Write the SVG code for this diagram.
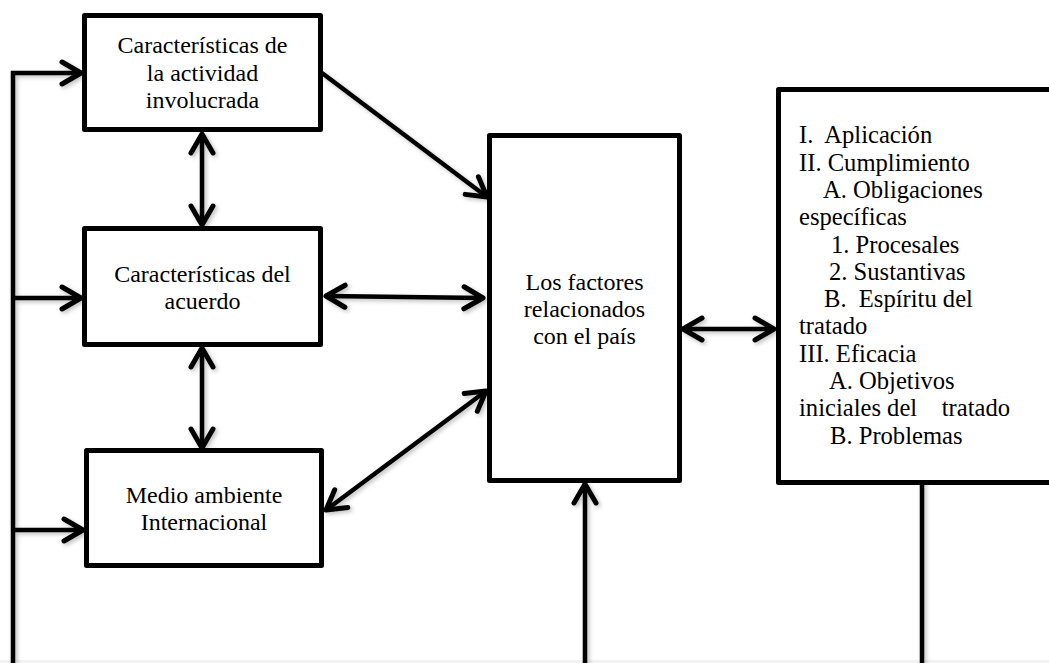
<svg xmlns="http://www.w3.org/2000/svg" width="1049" height="663" viewBox="0 0 1049 663">
<style>
.box{fill:#fff;stroke:#000;stroke-width:5;stroke-linejoin:round}
.con{fill:none;stroke:#000;stroke-width:4.5;stroke-linecap:butt}
.arr{marker-end:url(#ah)}
.dbl{marker-start:url(#ah);marker-end:url(#ah)}
text{font-family:"Liberation Serif","Times New Roman",serif;font-size:24px;fill:#000}
.c{text-anchor:middle}
.l{font-size:24.6px;white-space:pre}
</style>
<defs>
<marker id="ah" markerUnits="userSpaceOnUse" viewBox="-26 -16 30 32" markerWidth="30" markerHeight="32" refX="0" refY="0" orient="auto-start-reverse" overflow="visible">
<path d="M-19 -11 L0 0 L-19 11" fill="none" stroke="#000" stroke-width="5" stroke-linecap="round" stroke-linejoin="round"/>
</marker>
<filter id="sh" x="-10%" y="-10%" width="130%" height="130%">
<feDropShadow dx="2" dy="2" stdDeviation="2" flood-color="#000" flood-opacity="0.25"/>
</filter>
</defs>
<rect x="0" y="0" width="1049" height="663" fill="#fff"/>
<rect x="0" y="660" width="1049" height="3" fill="#f2f2f2"/>
<g id="connectors" filter="url(#sh)">
<path class="con arr" d="M13 663 V73 H81"/>
<path class="con arr" d="M13 298 H81"/>
<path class="con arr" d="M13 530 H83"/>
<path class="con dbl" d="M202 134 V225"/>
<path class="con dbl" d="M202 348 V448"/>
<path class="con arr" d="M322 73 L487 197"/>
<path class="con dbl" d="M326 296 L483 298"/>
<path class="con dbl" d="M326 510 L486 391"/>
<path class="con dbl" d="M683 329 L774 329"/>
<path class="con arr" d="M585 663 V484"/>
<path class="con" d="M922 476 V663"/>
</g>
<g id="node-actividad">
<rect class="box" x="84.5" y="15.5" width="236" height="114"/>
<text class="c" x="202.5" y="53">Características de</text>
<text class="c" x="202.5" y="80.5">la actividad</text>
<text class="c" x="202.5" y="108">involucrada</text>
</g>
<g id="node-acuerdo">
<rect class="box" x="84.5" y="228.5" width="236" height="116"/>
<text class="c" x="202.5" y="282">Características del</text>
<text class="c" x="202.5" y="309">acuerdo</text>
</g>
<g id="node-medio">
<rect class="box" x="86.5" y="450.5" width="235" height="115"/>
<text class="c" x="204" y="503">Medio ambiente</text>
<text class="c" x="204" y="530">Internacional</text>
</g>
<g id="node-pais">
<rect class="box" x="489.5" y="135.5" width="190" height="345"/>
<text class="c" x="584.5" y="290">Los factores</text>
<text class="c" x="584.5" y="317">relacionados</text>
<text class="c" x="584.5" y="344">con el país</text>
</g>
<g id="node-resultados">
<rect class="box" x="778.5" y="89.5" width="290" height="393"/>
<text class="l" xml:space="preserve" x="799" y="143.3">I.  Aplicación</text>
<text class="l" xml:space="preserve" x="799" y="170.6">II. Cumplimiento</text>
<text class="l" xml:space="preserve" x="823" y="197.9">A. Obligaciones</text>
<text class="l" xml:space="preserve" x="799" y="225.2">específicas</text>
<text class="l" xml:space="preserve" x="831" y="252.5">1. Procesales</text>
<text class="l" xml:space="preserve" x="829" y="279.8">2. Sustantivas</text>
<text class="l" xml:space="preserve" x="824" y="307.1">B.  Espíritu del</text>
<text class="l" xml:space="preserve" x="799" y="334.4">tratado</text>
<text class="l" xml:space="preserve" x="799" y="361.7">III. Eficacia</text>
<text class="l" xml:space="preserve" x="829" y="389">A. Objetivos</text>
<text class="l" xml:space="preserve" x="799" y="416.3">iniciales del    tratado</text>
<text class="l" xml:space="preserve" x="830" y="443.6">B. Problemas</text>
</g>
</svg>
